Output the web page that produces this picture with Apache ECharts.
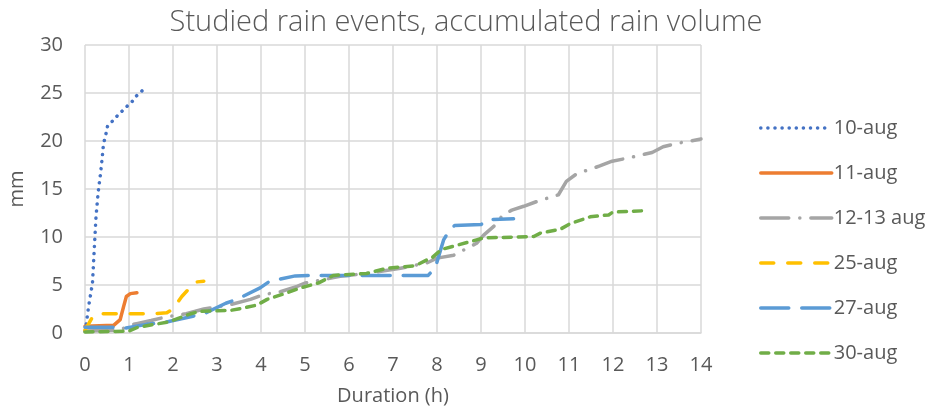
<!DOCTYPE html>
<html>
<head>
<meta charset="utf-8">
<script src="https://cdn.jsdelivr.net/npm/echarts@6/dist/echarts.min.js"></script>
<style>
html, body { margin: 0; padding: 0; background: #fff; }
#main { width: 932px; height: 408px; }
</style>
</head>
<body>
<div id="main"></div>
<script>
// accumulated rain per event, [hours, mm]
var aug10 = [[0,0.2],[0.03,1.0],[0.08,2.7],[0.17,5.2],[0.21,8.7],[0.25,12.1],[0.3,14.7],[0.35,16.5],[0.39,18.2],[0.42,19.7],[0.47,20.6],[0.51,21.5],[0.61,22.0],[0.73,22.6],[0.84,23.1],[0.95,23.6],[1.07,24.1],[1.17,24.7],[1.29,25.2],[1.4,25.6]];
var aug11 = [[0,0.7],[0.65,0.8],[0.8,1.4],[0.88,2.8],[0.94,3.8],[1.03,4.1],[1.18,4.2]];
var aug1213 = [[0,0.2],[0.8,0.3],[1.0,0.8],[1.2,1.0],[1.5,1.3],[1.86,1.7],[2.3,2.0],[2.7,2.5],[3.3,2.95],[3.76,3.5],[4.06,4.0],[4.44,4.3],[4.82,4.85],[5.0,5.2],[5.8,5.9],[6.4,6.2],[7.17,6.75],[7.77,7.3],[8.0,7.8],[8.38,8.1],[8.9,9.35],[9.06,10.2],[9.29,11.1],[9.5,12.3],[9.7,12.8],[9.97,13.2],[10.27,13.7],[10.76,14.4],[10.94,15.8],[11.18,16.6],[11.7,17.4],[11.98,17.9],[12.32,18.2],[12.89,18.8],[13.14,19.4],[13.45,19.75],[14.0,20.2]];
var aug25 = [[0,0.3],[0.15,1.5],[0.25,2.0],[1.5,2.0],[1.86,2.1],[2.0,2.5],[2.2,3.8],[2.4,4.8],[2.5,5.3],[2.7,5.4]];
var aug27 = [[0,0.6],[0.6,0.6],[0.9,0.5],[1.4,0.9],[1.8,1.1],[2.4,1.7],[2.7,2.0],[3.2,3.1],[3.45,3.5],[3.98,4.7],[4.2,5.4],[4.78,5.95],[5.2,6.0],[7.8,6.0],[7.96,6.8],[8.15,9.7],[8.3,10.8],[8.4,11.2],[9.0,11.3],[9.14,11.8],[9.74,11.9]];
var aug30 = [[0,0.1],[1.0,0.2],[1.2,0.6],[1.9,1.15],[2.4,2.0],[2.6,2.25],[3.3,2.35],[3.6,2.6],[3.9,2.9],[4.14,3.5],[4.6,4.2],[4.9,4.7],[5.3,5.2],[5.65,6.0],[6.4,6.2],[6.86,6.75],[7.5,7.0],[7.9,7.9],[8.1,8.7],[8.9,9.7],[9.05,9.9],[10.2,10.05],[10.35,10.4],[10.8,10.8],[11.03,11.4],[11.48,12.1],[11.9,12.3],[12.0,12.6],[12.8,12.75]];

var names = ['10-aug', '11-aug', '12-13 aug', '25-aug', '27-aug', '30-aug'];
var colors = ['#4472C4', '#ED7D31', '#A5A5A5', '#FFC000', '#5B9BD5', '#70AD47'];
var dashes = [[0.1, 7], 'solid', [28, 11, 0.1, 11], [13, 14], [28, 13], [8, 7]];
var seriesData = [aug10, aug11, aug1213, aug25, aug27, aug30];

var txt = '#595959';
var fnt = '"Open Sans", sans-serif';

var myChart = echarts.init(document.getElementById('main'));
var option = {
	animation: false,
	title: {
		text: 'Studied rain events, accumulated rain volume',
		left: 'center',
		top: 3,
		textStyle: { color: txt, fontSize: 29, fontWeight: 300, fontFamily: fnt }
	},
	grid: { left: 85, right: 231, top: 45, bottom: 75, outerBoundsMode: 'none', containLabel: false },
	legend: {
		orient: 'vertical',
		left: 754,
		top: 113,
		itemWidth: 71,
		itemHeight: 20,
		itemGap: 25,
		itemStyle: { opacity: 0 },
		lineStyle: { width: 3.5 },
		textStyle: { color: txt, fontSize: 20, fontFamily: fnt, padding: [0, 0, 0, -3] },
		data: names
	},
	xAxis: {
		type: 'value',
		min: 0, max: 14, interval: 1,
		name: 'Duration (h)',
		nameLocation: 'middle',
		nameGap: 53,
		nameTextStyle: { color: txt, fontSize: 20, fontFamily: fnt },
		axisLine: { lineStyle: { color: '#d9d9d9', width: 1.5 } },
		axisTick: { show: false },
		axisLabel: { color: txt, fontSize: 20, fontFamily: fnt, margin: 22 },
		splitLine: { show: true, lineStyle: { color: '#d9d9d9', width: 1.5 } }
	},
	yAxis: {
		type: 'value',
		min: 0, max: 30, interval: 5,
		name: 'mm',
		nameLocation: 'middle',
		nameGap: 58,
		nameTextStyle: { color: txt, fontSize: 20, fontFamily: fnt },
		axisLine: { show: false },
		axisTick: { show: false },
		axisLabel: { color: txt, fontSize: 20, fontFamily: fnt, margin: 22 },
		splitLine: { lineStyle: { color: '#d9d9d9', width: 1.5 } }
	},
	series: []
};

for (var i = 0; i < names.length; i++) {
	option.series.push({
		name: names[i],
		type: 'line',
		data: seriesData[i],
		symbol: 'none',
		color: colors[i],
		lineStyle: { color: colors[i], width: 3.5, type: dashes[i], cap: 'round', join: 'round' }
	});
}

myChart.setOption(option);
</script>
</body>
</html>
